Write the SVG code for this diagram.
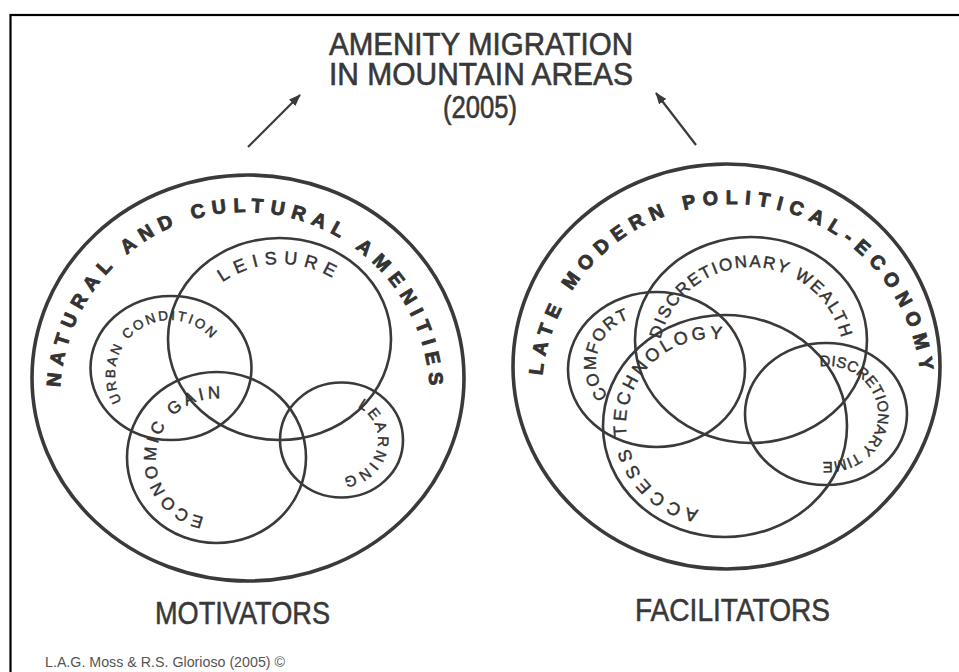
<svg xmlns="http://www.w3.org/2000/svg" width="959" height="672" viewBox="0 0 959 672">
<style>
  .bg { fill: #ffffff; }
  .frame { fill: none; stroke: #000; stroke-width: 2.2; }
  .big { fill: none; stroke: #3a3a3a; stroke-width: 3.6; }
  .ring { fill: none; stroke: #3a3a3a; stroke-width: 2.6; }
  .ttl { font-family: "Liberation Sans", Arial, sans-serif; font-size: 31px; fill: #383838; stroke: #383838; stroke-width: 0.6; text-anchor: middle; }
  .lbl { font-family: "Liberation Sans", Arial, sans-serif; font-size: 31px; fill: #383838; stroke: #383838; stroke-width: 0.5; text-anchor: middle; }
  .credit { font-family: "Liberation Sans", Arial, sans-serif; font-size: 15px; fill: #555; }
  .rim { font-family: "Liberation Sans", Arial, sans-serif; font-size: 19.5px; font-weight: bold; fill: #333; stroke: #333; stroke-width: 0.9; }
  .in { font-family: "Liberation Sans", Arial, sans-serif; fill: #333; stroke: #333; stroke-width: 0.45; }
  .arrow { stroke: #3a3a3a; stroke-width: 2.2; fill: none; }
</style>
<defs>
  <marker id="ah" viewBox="0 0 12 9" refX="11" refY="4.5" markerWidth="12" markerHeight="9" markerUnits="userSpaceOnUse" orient="auto">
    <path d="M0,0 L12,4.5 L0,9 z" fill="#3a3a3a"/>
  </marker>
  <path id="pNat" d="M 60.25 387.3 A 185 185 0 0 1 429.75 387.3"/>
  <path id="pLei" d="M 222.5 282.4 A 102 102 0 0 1 334.5 279.1"/>
  <path id="pUrb" d="M 121.7 401.3 A 55 55 0 0 1 212.0 339.5"/>
  <path id="pEco" d="M 204.1 517.3 A 60 60 0 0 1 222.3 398.8"/>
  <path id="pLea" d="M 357.6 406.9 A 37 37 0 0 1 341.8 477.0"/>
  <path id="pLat" d="M 542.4 375.5 A 190 190 0 0 1 920.4 373.5"/>
  <path id="pWea" d="M 660.4 339.1 A 93 93 0 0 1 841.6 339.1"/>
  <path id="pCom" d="M 608.2 395.6 A 47 47 0 0 1 630.8 318.6"/>
  <path id="pTec" d="M 626.7 436.1 A 86 86 0 0 1 724.0 339.8"/>
  <path id="pAcc" d="M 698.5 509.9 A 86 86 0 0 1 628.7 446.5"/>
  <path id="pTim" d="M 819.9 366.5 A 51 48 0 1 1 819.9 461.5"/>
</defs>

<rect class="bg" x="0" y="0" width="959" height="672"/>
<rect class="frame" x="10.5" y="15" width="960" height="670"/>

<g id="title">
  <text class="ttl" x="481" y="55" textLength="304" lengthAdjust="spacingAndGlyphs">AMENITY MIGRATION</text>
  <text class="ttl" x="481" y="85" textLength="304" lengthAdjust="spacingAndGlyphs">IN MOUNTAIN AREAS</text>
  <text class="ttl" x="480" y="118" textLength="74" lengthAdjust="spacingAndGlyphs">(2005)</text>
</g>

<g id="connectors">
  <line class="arrow" x1="248" y1="147" x2="300" y2="95" marker-end="url(#ah)"/>
  <line class="arrow" x1="696" y1="145" x2="656" y2="93" marker-end="url(#ah)"/>
</g>

<g id="natural-cultural-amenities">
  <ellipse class="big" cx="248" cy="378" rx="216" ry="203"/>
  <text class="rim"><textPath href="#pNat" textLength="560" lengthAdjust="spacing">NATURAL AND CULTURAL AMENITIES</textPath></text>
</g>
<g id="leisure">
  <ellipse class="ring" cx="279.5" cy="339" rx="111.5" ry="101"/>
  <text class="in" font-size="18"><textPath href="#pLei" textLength="116" lengthAdjust="spacing">LEISURE</textPath></text>
</g>
<g id="urban-condition">
  <ellipse class="ring" cx="171" cy="368" rx="80.5" ry="72"/>
  <text class="in" font-size="13.5"><textPath href="#pUrb" textLength="160" lengthAdjust="spacing">URBAN CONDITION</textPath></text>
</g>
<g id="economic-gain">
  <ellipse class="ring" cx="216.5" cy="457.5" rx="89.5" ry="85.5"/>
  <text class="in" font-size="17"><textPath href="#pEco" textLength="181" lengthAdjust="spacing">ECONOMIC GAIN</textPath></text>
</g>
<g id="learning">
  <ellipse class="ring" cx="341.5" cy="440" rx="61.5" ry="57.5"/>
  <text class="in" font-size="15"><textPath href="#pLea" textLength="96" lengthAdjust="spacing">LEARNING</textPath></text>
</g>

<g id="late-modern-political-economy">
  <ellipse class="big" cx="726.5" cy="366.5" rx="213.5" ry="202.5"/>
  <text class="rim"><textPath href="#pLat" textLength="555" lengthAdjust="spacing">LATE MODERN POLITICAL-ECONOMY</textPath></text>
</g>
<g id="discretionary-wealth">
  <ellipse class="ring" cx="751" cy="340" rx="116" ry="103"/>
  <text class="in" font-size="17"><textPath href="#pWea" textLength="248" lengthAdjust="spacing">DISCRETIONARY WEALTH</textPath></text>
</g>
<g id="comfort">
  <ellipse class="ring" cx="656.5" cy="369.5" rx="88.5" ry="77.5"/>
  <text class="in" font-size="17"><textPath href="#pCom" textLength="94" lengthAdjust="spacing">COMFORT</textPath></text>
</g>
<g id="technology-access">
  <ellipse class="ring" cx="725" cy="426" rx="122" ry="111"/>
  <text class="in" font-size="18"><textPath href="#pTec" textLength="156" lengthAdjust="spacing">TECHNOLOGY</textPath></text>
  <text class="in" font-size="18"><textPath href="#pAcc" textLength="98" lengthAdjust="spacing">ACCESS</textPath></text>
</g>
<g id="discretionary-time">
  <ellipse class="ring" cx="826" cy="414" rx="81" ry="71"/>
  <text class="in" font-size="15"><textPath href="#pTim" textLength="167" lengthAdjust="spacing">DISCRETIONARY TIME</textPath></text>
</g>

<g id="motivators">
  <text class="lbl" x="242.5" y="624" textLength="175" lengthAdjust="spacingAndGlyphs">MOTIVATORS</text>
</g>
<g id="facilitators">
  <text class="lbl" x="732.5" y="621" textLength="195" lengthAdjust="spacingAndGlyphs">FACILITATORS</text>
</g>
<g id="credit">
  <text class="credit" x="45" y="667" textLength="240" lengthAdjust="spacingAndGlyphs">L.A.G. Moss &amp; R.S. Glorioso (2005) ©</text>
</g>
</svg>
